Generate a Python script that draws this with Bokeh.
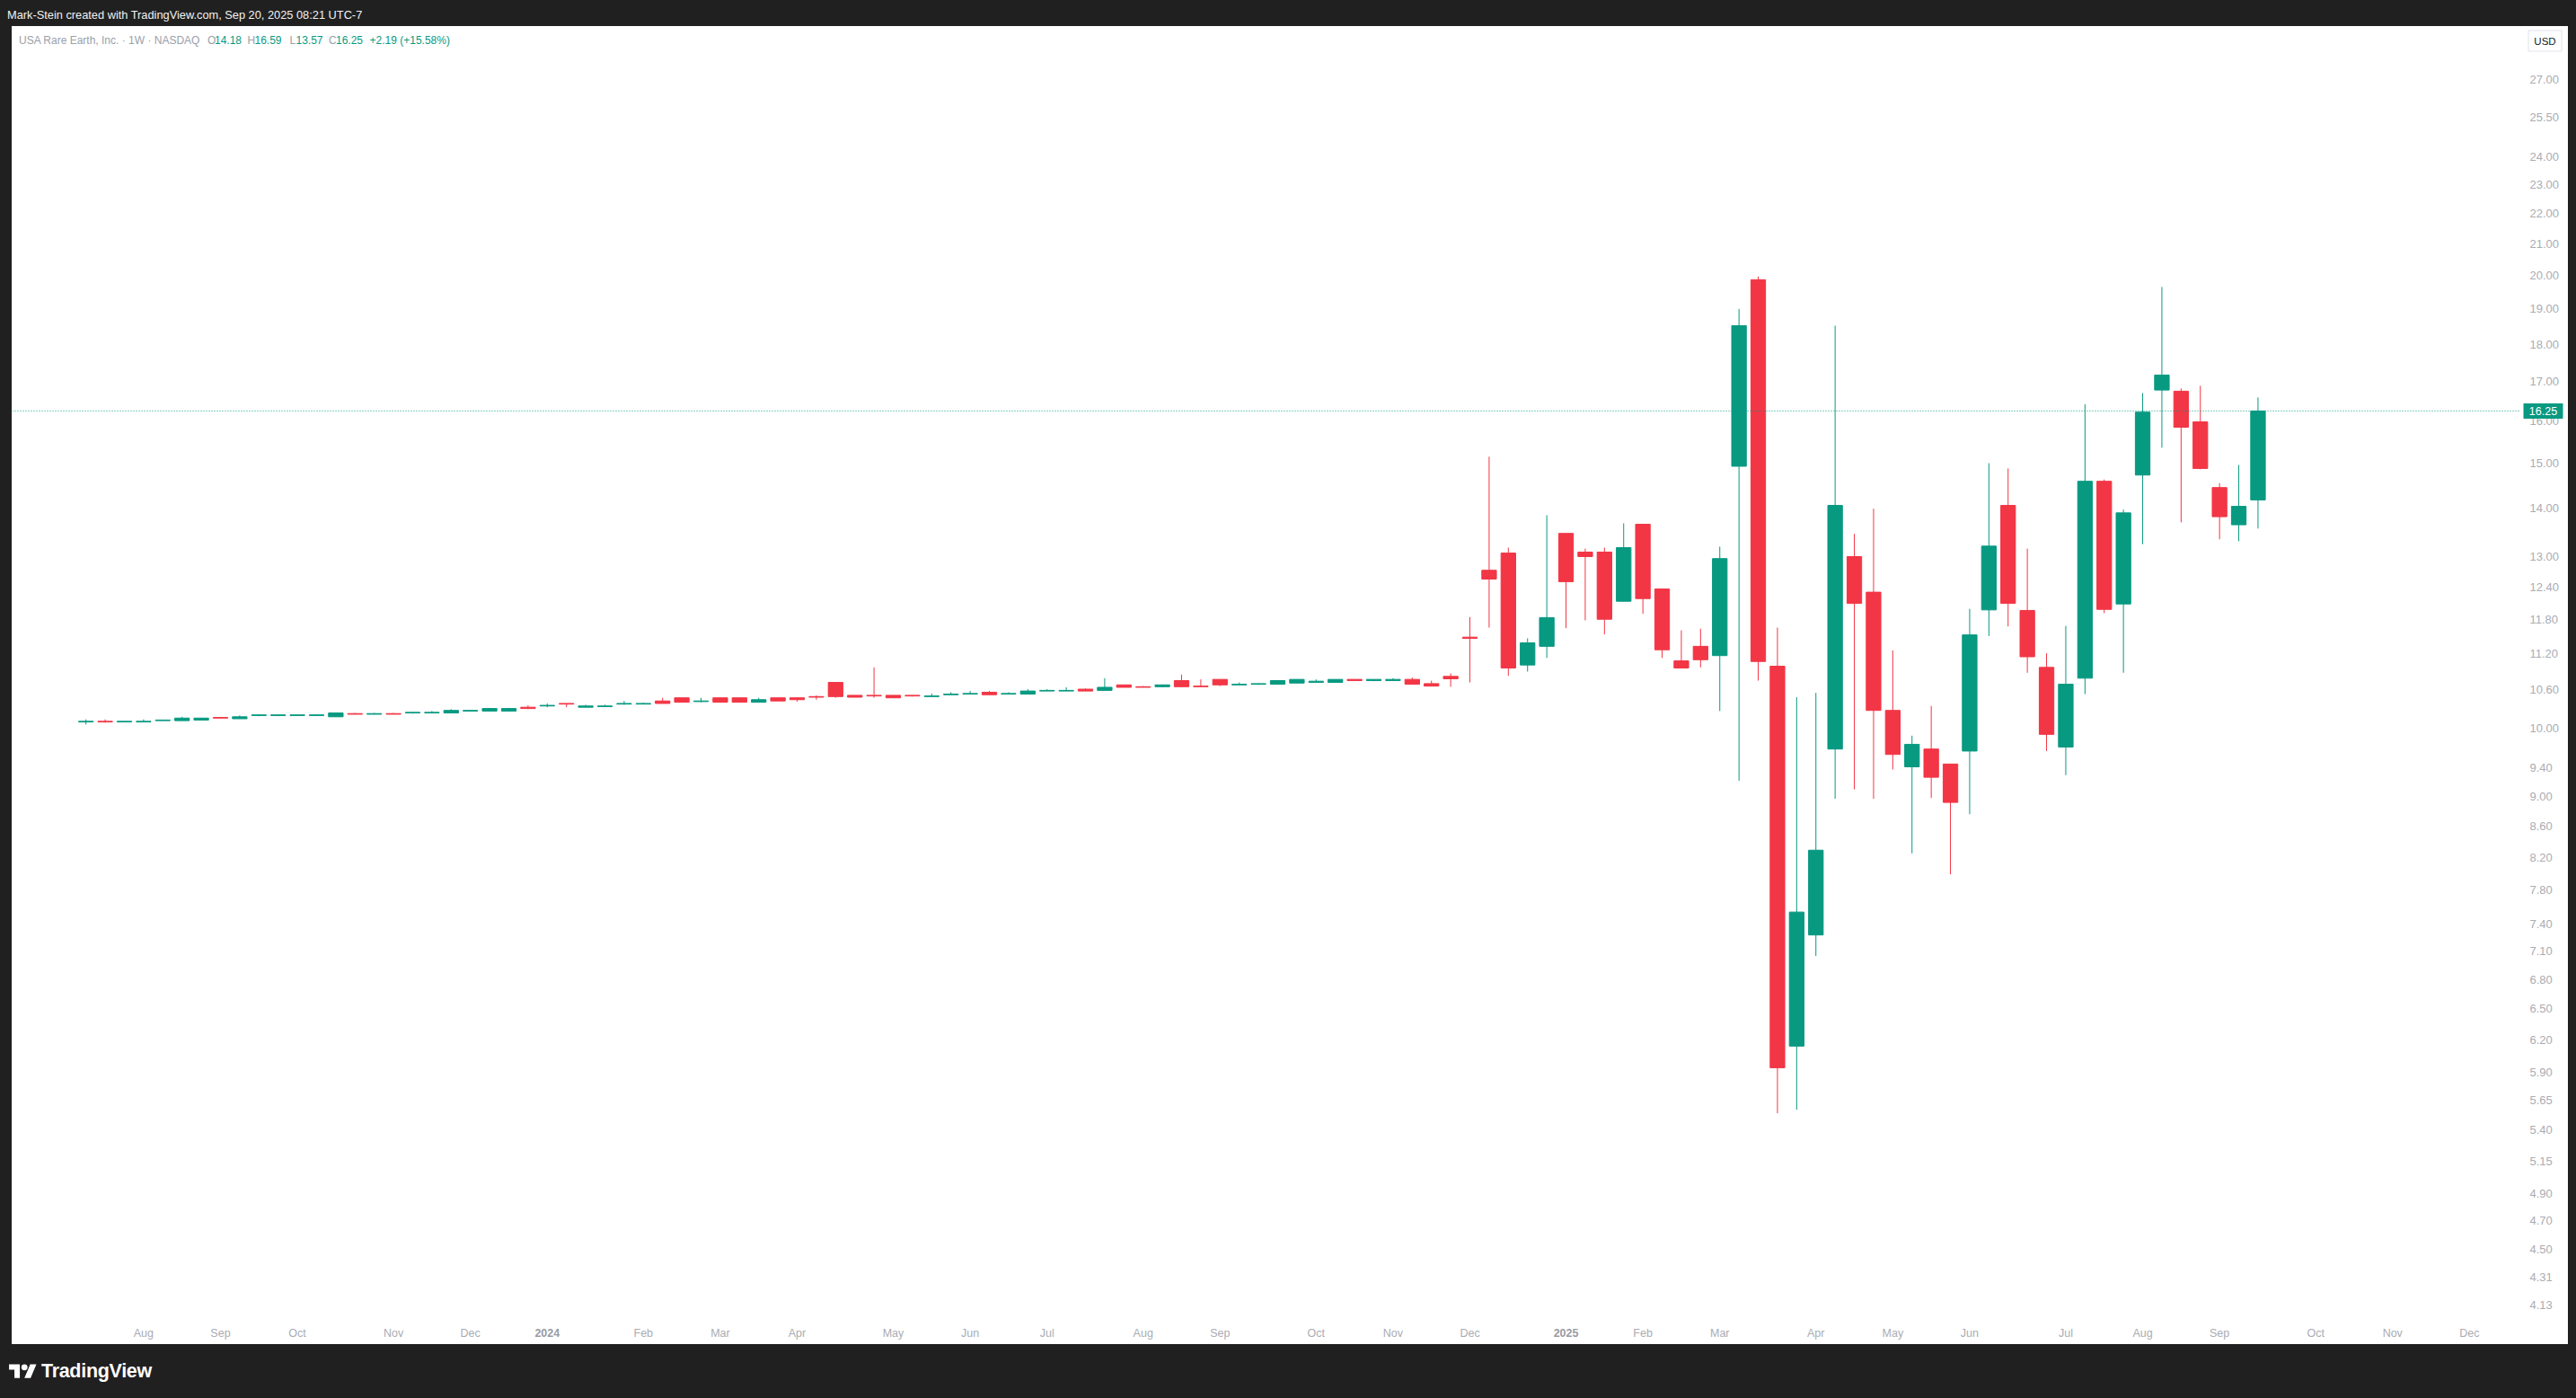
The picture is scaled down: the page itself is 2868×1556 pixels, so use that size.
from bokeh.plotting import figure
from bokeh.models import (ColumnDataSource, Range1d, FixedTicker, PrintfTickFormatter,
                          Span, Label, Div, GlobalInlineStyleSheet)
from bokeh.layouts import column, row
from bokeh.embed import file_html
from bokeh.resources import INLINE
from bokeh.core.properties import value
import math

# ---------------- data (weekly candles, USA Rare Earth, from week of 2023-07-17) ----------------
opens = [10.09, 10.10, 10.09, 10.09, 10.11, 10.11, 10.12, 10.16, 10.14, 10.19,
         10.19, 10.19, 10.19, 10.17, 10.22, 10.21, 10.22, 10.23, 10.23, 10.23,
         10.26, 10.26, 10.26, 10.32, 10.34, 10.38, 10.32, 10.33, 10.37, 10.37,
         10.42, 10.47, 10.41, 10.47, 10.47, 10.40, 10.47, 10.47, 10.49, 10.72,
         10.51, 10.51, 10.51, 10.51, 10.49, 10.52, 10.53, 10.56, 10.53, 10.53,
         10.58, 10.58, 10.61, 10.59, 10.68, 10.65, 10.65, 10.75, 10.66, 10.77,
         10.68, 10.69, 10.69, 10.71, 10.72, 10.72, 10.77, 10.75, 10.75, 10.77,
         10.70, 10.82, 11.49, 12.73, 13.07, 11.01, 11.33, 13.47, 13.09, 13.09,
         12.14, 13.66, 12.37, 11.08, 11.33, 11.17, 14.93, 19.87, 10.99, 6.14,
         7.28, 9.68, 13.00, 12.31, 10.27, 9.42, 9.68, 9.46, 9.65, 11.98,
         14.06, 11.97, 10.97, 9.71, 10.79, 14.59, 12.09, 14.73, 16.78, 16.75,
         15.98, 14.45, 13.65, 14.18]
highs = [10.13, 10.13, 10.10, 10.13, 10.12, 10.17, 10.15, 10.16, 10.19, 10.21,
         10.20, 10.20, 10.21, 10.23, 10.23, 10.23, 10.23, 10.24, 10.26, 10.29,
         10.27, 10.31, 10.31, 10.35, 10.38, 10.38, 10.36, 10.36, 10.42, 10.39,
         10.47, 10.47, 10.47, 10.47, 10.47, 10.47, 10.47, 10.47, 10.51, 10.72,
         10.51, 10.97, 10.51, 10.51, 10.54, 10.56, 10.58, 10.58, 10.56, 10.61,
         10.61, 10.64, 10.62, 10.79, 10.68, 10.66, 10.68, 10.85, 10.77, 10.77,
         10.72, 10.70, 10.75, 10.77, 10.77, 10.77, 10.77, 10.77, 10.79, 10.80,
         10.75, 10.87, 11.85, 15.15, 13.18, 11.47, 13.85, 13.47, 13.16, 13.18,
         13.68, 13.66, 12.37, 11.61, 11.64, 13.20, 19.00, 19.97, 11.66, 10.48,
         10.55, 18.52, 13.46, 13.99, 11.26, 9.88, 10.34, 9.46, 12.00, 15.00,
         14.88, 13.16, 11.21, 11.69, 16.42, 14.63, 13.97, 16.70, 19.65, 16.82,
         16.89, 14.55, 14.96, 16.59]
lows = [10.05, 10.08, 10.09, 10.09, 10.11, 10.11, 10.12, 10.15, 10.14, 10.18,
        10.18, 10.19, 10.19, 10.17, 10.21, 10.21, 10.21, 10.22, 10.23, 10.23,
        10.26, 10.26, 10.26, 10.29, 10.32, 10.32, 10.32, 10.33, 10.36, 10.37,
        10.38, 10.40, 10.40, 10.40, 10.40, 10.40, 10.42, 10.41, 10.44, 10.47,
        10.48, 10.47, 10.47, 10.49, 10.49, 10.52, 10.53, 10.52, 10.53, 10.53,
        10.58, 10.58, 10.58, 10.59, 10.64, 10.64, 10.64, 10.65, 10.65, 10.66,
        10.68, 10.68, 10.69, 10.71, 10.72, 10.72, 10.75, 10.74, 10.75, 10.69,
        10.66, 10.65, 10.72, 11.66, 10.83, 10.90, 11.13, 11.65, 11.79, 11.54,
        12.14, 11.91, 11.13, 10.96, 10.97, 10.26, 9.22, 10.75, 5.54, 5.57,
        7.05, 8.97, 9.10, 8.97, 9.38, 8.25, 8.98, 7.99, 8.76, 11.51,
        11.68, 10.88, 9.65, 9.30, 10.53, 11.92, 10.88, 13.25, 15.36, 13.70,
        14.86, 13.35, 13.31, 13.57]
closes = [10.10, 10.09, 10.10, 10.10, 10.12, 10.15, 10.15, 10.15, 10.17, 10.20,
          10.20, 10.20, 10.20, 10.23, 10.21, 10.22, 10.21, 10.24, 10.24, 10.27,
          10.27, 10.30, 10.30, 10.30, 10.35, 10.37, 10.34, 10.34, 10.38, 10.38,
          10.38, 10.40, 10.42, 10.40, 10.40, 10.44, 10.42, 10.44, 10.48, 10.49,
          10.48, 10.50, 10.47, 10.50, 10.50, 10.53, 10.54, 10.52, 10.54, 10.58,
          10.59, 10.59, 10.58, 10.64, 10.64, 10.64, 10.68, 10.65, 10.65, 10.68,
          10.69, 10.70, 10.75, 10.77, 10.74, 10.77, 10.75, 10.77, 10.77, 10.69,
          10.66, 10.78, 11.47, 12.56, 10.96, 11.39, 11.84, 12.51, 13.00, 11.81,
          13.18, 12.19, 11.27, 10.96, 11.10, 12.96, 18.52, 11.07, 5.94, 7.54,
          8.29, 14.06, 12.10, 10.27, 9.60, 9.75, 9.27, 8.92, 11.53, 13.21,
          12.10, 11.15, 9.90, 10.69, 14.59, 11.99, 13.90, 16.22, 17.17, 15.85,
          14.88, 13.82, 14.04, 16.25]
weeks = list(range(len(opens)))  # 0 = week of 2023-07-17

month_ticks = [3, 7, 11, 16, 20, 29, 33, 37, 42, 46, 50, 55, 59, 64, 68, 72,
               81, 85, 90, 94, 98, 103, 107, 111, 116, 120, 124]
month_labels = ["Aug", "Sep", "Oct", "Nov", "Dec", "Feb", "Mar", "Apr", "May", "Jun", "Jul",
                "Aug", "Sep", "Oct", "Nov", "Dec", "Feb", "Mar", "Apr", "May", "Jun", "Jul",
                "Aug", "Sep", "Oct", "Nov", "Dec"]
year_ticks = [24, 77]
year_labels = ["2024", "2025"]
price_ticks = [27.0, 25.5, 24.0, 23.0, 22.0, 21.0, 20.0, 19.0, 18.0, 17.0, 16.0, 15.0,
               14.0, 13.0, 12.4, 11.8, 11.2, 10.6, 10.0, 9.4, 9.0, 8.6, 8.2, 7.8, 7.4,
               7.1, 6.8, 6.5, 6.2, 5.9, 5.65, 5.4, 5.15, 4.9, 4.7, 4.5, 4.31, 4.13]
last_price = 16.25
currency = "USD"

# ---------------- style / geometry ----------------
UP = "#089981"
DOWN = "#F23645"
DARK = "#202020"
AXIS_TXT = "#a9acb4"
FONT = "Liberation Sans"

FIG_W, FIG_H = 2846, 1467
BORDER_R, BORDER_B = 53, 34
FRAME_W, FRAME_H = FIG_W - BORDER_R, FIG_H - BORDER_B
X0, X1 = -3.84, 126.67
Y0, Y1 = 4.0727, 29.29
px_x = FRAME_W / (X1 - X0)
px_y = FRAME_H / (math.log(Y1) - math.log(Y0))


def x_at(px):  # data x for a pixel offset from the frame's left edge
    return X0 + px / px_x


def y_at(py):  # data y for a pixel offset below the frame's top edge
    return math.exp(math.log(Y1) - py / px_y)


colors = [UP if c >= o else DOWN for o, c in zip(opens, closes)]
src = ColumnDataSource(dict(
    x=weeks, low=lows, high=highs,
    top=[max(o, c) for o, c in zip(opens, closes)],
    bottom=[min(o, c) for o, c in zip(opens, closes)],
    color=colors))

p = figure(width=FIG_W, height=FIG_H,
           x_range=Range1d(X0, X1), y_range=Range1d(Y0, Y1),
           y_axis_type="log", y_axis_location="right",
           output_backend="svg", toolbar_location=None,
           min_border_left=0, min_border_top=0, min_border_right=BORDER_R,
           min_border_bottom=BORDER_B,
           background_fill_color="white", border_fill_color="white",
           styles={"background-color": "white"})
p.outline_line_color = None
p.outline_line_alpha = 0
p.xgrid.visible = False
p.ygrid.visible = False

p.segment(x0="x", y0="low", x1="x", y1="high", line_color="color", line_width=1, source=src)
p.vbar(x="x", width=0.76, top="top", bottom="bottom", fill_color="color",
       line_color="color", line_width=1, source=src)

p.add_layout(Span(location=last_price, dimension="width", line_color=UP,
                  line_dash="1 2", line_width=1))

# axes
for ax in (p.yaxis[0], p.xaxis[0]):
    ax.axis_line_color = None
    ax.axis_line_alpha = 0
    ax.major_tick_line_color = None
    ax.minor_tick_line_color = None
    ax.major_tick_out = 0
    ax.major_tick_in = 0
    ax.minor_tick_out = 0
    ax.minor_tick_in = 0
    ax.major_label_text_color = AXIS_TXT
    ax.major_label_text_font = FONT

ya = p.yaxis[0]
ya.ticker = FixedTicker(ticks=price_ticks)
ya.formatter = PrintfTickFormatter(format="%.2f")
ya.major_label_standoff = 10
ya.major_label_text_font_size = "13px"

xa = p.xaxis[0]
xa.ticker = FixedTicker(ticks=month_ticks)
xa.major_label_overrides = {t: l for t, l in zip(month_ticks, month_labels)}
xa.major_label_standoff = 14
xa.major_label_text_font_size = "12.5px"

# bold year labels under the axis, drawn as overlay-level glyphs
p.text(x=year_ticks, y=[y_at(FRAME_H + 21)] * len(year_ticks), text=year_labels,
       text_align="center", text_baseline="middle", text_color="#989ba3",
       text_font=value(FONT), text_font_size="12.5px", text_font_style="bold",
       level="overlay")

# last-price tag on the price scale
tag_x = x_at(FRAME_W + 25)
p.rect(x=[tag_x], y=[last_price], width=44, height=17, width_units="screen",
       height_units="screen", fill_color=UP, line_color=None, level="overlay")
p.text(x=[tag_x], y=[last_price], text=["%.2f" % last_price], text_align="center",
       text_baseline="middle", text_color="white", text_font=value(FONT),
       text_font_size="12.5px", level="overlay")

# currency box
usd_x, usd_y = x_at(FRAME_W + 27), y_at(16)
p.rect(x=[usd_x], y=[usd_y], width=37, height=23, width_units="screen",
       height_units="screen", fill_color="white", line_color="#e0e3eb", line_width=1,
       level="overlay")
p.text(x=[usd_x], y=[usd_y], text=[currency], text_align="center", text_baseline="middle",
       text_color="#131722", text_font=value(FONT), text_font_size="11.5px", level="overlay")

# legend line
legend_parts = [
    (7.5, "USA Rare Earth, Inc. \u00b7 1W \u00b7 NASDAQ", "#9aa0a9"),
    (217.5, "O", "#9aa0a9"), (225.5, "14.18", UP),
    (262, "H", "#9aa0a9"), (270, "16.59", UP),
    (309, "L", "#9aa0a9"), (316, "13.57", UP),
    (352.5, "C", "#9aa0a9"), (360.5, "16.25", UP),
    (398, "+2.19 (+15.58%)", UP),
]
for lx, txt, col in legend_parts:
    p.add_layout(Label(x=lx, y=FRAME_H - 15, x_units="screen", y_units="screen", text=txt,
                       text_align="left", text_baseline="middle", text_color=col,
                       text_font=FONT, text_font_size="12px"))

header = Div(text='<div style="padding-top:5px;padding-left:3px;">Mark-Stein created with '
                  'TradingView.com, Sep 20, 2025 08:21 UTC-7</div>',
             width=2852, height=19,
             styles={"background-color": DARK, "color": "#f2f2f2", "font-size": "12.8px",
                     "font-family": "Liberation Sans, Arial, sans-serif", "line-height": "13px"})
left_pad = Div(text="", width=3, height=FIG_H, styles={"background-color": DARK})
logo = ('<div style="display:flex;align-items:center;padding-left:5px;padding-top:3px;">'
        '<svg width="31" height="24" viewBox="0 0 36 28">'
        '<path fill="#ffffff" d="M14 22H7V11H0V4h14v18zM28 22h-8l7.5-18h8L28 22z"/>'
        '<circle cx="20" cy="8" r="4" fill="#ffffff"/></svg>'
        '<span style="color:#ffffff;font:bold 21.5px \'Liberation Sans\', Arial, sans-serif;'
        'margin-left:5px;letter-spacing:-0.3px">TradingView</span></div>')
footer = Div(text=logo, width=2852, height=54, styles={"background-color": DARK})

layout = column(header, row(left_pad, p), footer,
                stylesheets=[GlobalInlineStyleSheet(css="body { background-color: #202020; }")])

open("out.html", "w").write(file_html(layout, INLINE))
